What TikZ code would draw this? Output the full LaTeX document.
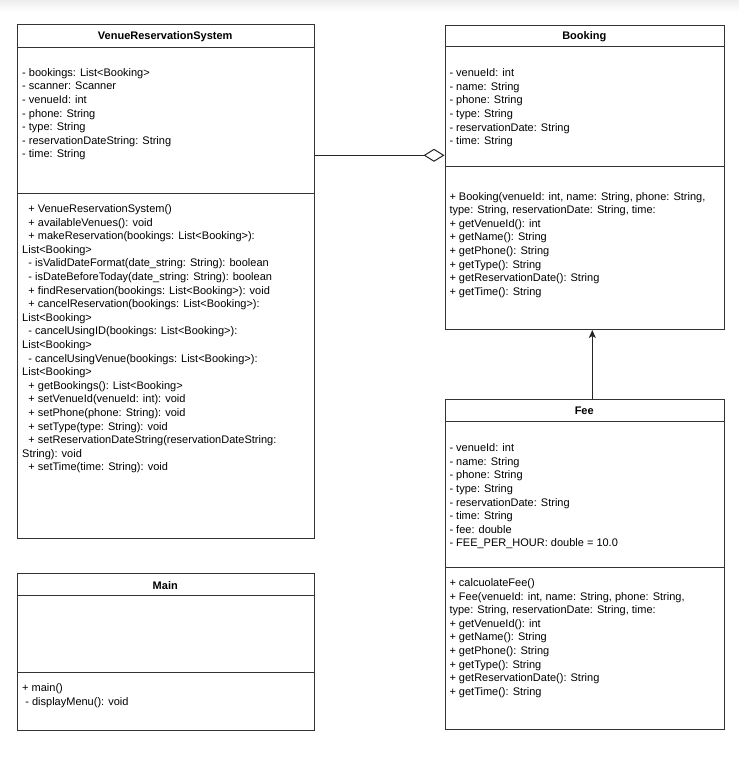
\documentclass[tikz,border=0pt]{standalone}
\usepackage{fontspec}
\setmainfont{Liberation Sans}
\usetikzlibrary{arrows.meta}
\begin{document}
\begin{tikzpicture}[x=1pt,y=-1pt,
  box/.style={draw=black!80,line width=1pt,fill=none,inner sep=0,anchor=north west},
  sepline/.style={draw=black!80,line width=1pt},
  txt/.style={anchor=base west,inner sep=0,align=left,font=\fontsize{11}{13.6}\selectfont},
  ttl/.style={anchor=base,inner sep=0,font=\fontsize{11}{13.6}\selectfont\bfseries},
  conn/.style={draw=black!85,line width=1pt}]
\useasboundingbox (0,0) rectangle (739,761);
\shade[top color=black!7,bottom color=white] (0,0) rectangle (739,12);

% ---------------- VenueReservationSystem
\node[box,minimum width=296.5pt,minimum height=514pt] (vrs) at (17,24.3) {};
\draw[sepline] (17,47) -- (313.5,47);
\draw[sepline] (17,193) -- (313.5,193);
\node[ttl] (vrst) at (165.25,39.5) {VenueReservationSystem};
% anchor base = baseline of the last line
\node[txt] (vrsa) at (22,157.9) {- bookings: List<Booking>\\
- scanner: Scanner\\
- venueId: int\\
- phone: String\\
- type: String\\
- reservationDateString: String\\
- time: String};
\node[txt] (vrsm) at (22,470.8) {\hspace*{6.3pt}+ VenueReservationSystem()\\
\hspace*{6.3pt}+ availableVenues(): void\\
\hspace*{6.3pt}+ makeReservation(bookings: List<Booking>):\\
List<Booking>\\
\hspace*{6.3pt}- isValidDateFormat(date\_string: String): boolean\\
\hspace*{6.3pt}- isDateBeforeToday(date\_string: String): boolean\\
\hspace*{6.3pt}+ findReservation(bookings: List<Booking>): void\\
\hspace*{6.3pt}+ cancelReservation(bookings: List<Booking>):\\
List<Booking>\\
\hspace*{6.3pt}- cancelUsingID(bookings: List<Booking>):\\
List<Booking>\\
\hspace*{6.3pt}- cancelUsingVenue(bookings: List<Booking>):\\
List<Booking>\\
\hspace*{6.3pt}+ getBookings(): List<Booking>\\
\hspace*{6.3pt}+ setVenueId(venueId: int): void\\
\hspace*{6.3pt}+ setPhone(phone: String): void\\
\hspace*{6.3pt}+ setType(type: String): void\\
\hspace*{6.3pt}+ setReservationDateString(reservationDateString:\\
String): void\\
\hspace*{6.3pt}+ setTime(time: String): void};

% ---------------- Booking
\node[box,minimum width=279.5pt,minimum height=304.5pt] (booking) at (444.5,24.5) {};
\draw[sepline] (444.5,46.7) -- (724,46.7);
\draw[sepline] (444.5,166.7) -- (724,166.7);
\node[ttl] (bookingt) at (584.25,39.5) {Booking};
\node[txt] (bookinga) at (449.3,144.6) {- venueId: int\\
- name: String\\
- phone: String\\
- type: String\\
- reservationDate: String\\
- time: String};
\node[txt] (bookingm) at (449.3,295.2) {+ Booking(venueId: int, name: String, phone: String,\\
type: String, reservationDate: String, time:\\
+ getVenueId(): int\\
+ getName(): String\\
+ getPhone(): String\\
+ getType(): String\\
+ getReservationDate(): String\\
+ getTime(): String};

% ---------------- Fee
\node[box,minimum width=279.5pt,minimum height=330.3pt] (fee) at (444.5,399) {};
\draw[sepline] (444.5,421) -- (724,421);
\draw[sepline] (444.5,567.7) -- (724,567.7);
\node[ttl] (feet) at (584.25,414.6) {Fee};
\node[txt] (feea) at (449.3,546.9) {- venueId: int\\
- name: String\\
- phone: String\\
- type: String\\
- reservationDate: String\\
- time: String\\
- fee: double\\
- FEE\_PER\_HOUR: double = 10.0};
\node[txt] (feem) at (449.3,695.3) {+ calcuolateFee()\\
+ Fee(venueId: int, name: String, phone: String,\\
type: String, reservationDate: String, time:\\
+ getVenueId(): int\\
+ getName(): String\\
+ getPhone(): String\\
+ getType(): String\\
+ getReservationDate(): String\\
+ getTime(): String};

% ---------------- Main
\node[box,minimum width=296.5pt,minimum height=157.3pt] (main) at (17,572.7) {};
\draw[sepline] (17,595) -- (313.5,595);
\draw[sepline] (17,672.3) -- (313.5,672.3);
\node[ttl] (maint) at (165.25,589) {Main};
\node[txt] (mainm) at (22,705.5) {+ main()\\
\hspace*{3.2pt}- displayMenu(): void};

% ---------------- connectors
\coordinate (aggy) at (0,155.3);
\coordinate (inhx) at (592.3,0);
\draw[conn,-{Diamond[fill=white,length=21pt,width=13pt,line width=1pt]}] (vrs.east |- aggy) -- (booking.west |- aggy);
\draw[conn,-{Stealth[length=8pt,width=7pt,inset=2pt]}] (fee.north -| inhx) -- (booking.south -| inhx);
\end{tikzpicture}
\end{document}
